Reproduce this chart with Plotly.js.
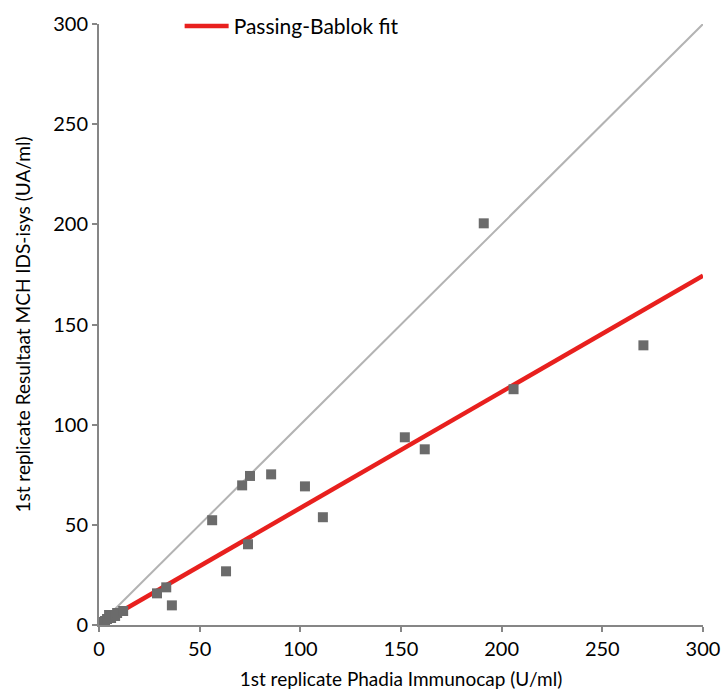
<!DOCTYPE html>
<html>
<head>
<meta charset="utf-8">
<script src="https://cdn.plot.ly/plotly-3.0.1.min.js"></script>
<style>html,body{margin:0;padding:0;background:#fff;}#chart{width:721px;height:691px;}</style>
</head>
<body>
<div id="chart"></div>
<script>
// Measured data: 1st replicate Phadia Immunocap (x) vs MCH IDS-isys (y)
const phadiaX = [0.2, 0.5, 1, 1.5, 2, 3, 4, 5, 6, 8, 9, 12,
  28.8, 33.4, 36.2, 56.2, 63.1, 71.1, 74.0, 75.0, 85.5, 102.3, 111.2,
  151.9, 161.8, 191.1, 205.9, 270.4];
const idsY = [0.1, 0.4, 0.8, 1.5, 1, 2, 3, 5, 3.5, 4.5, 6, 7,
  15.8, 18.8, 9.8, 52.3, 26.8, 69.7, 40.3, 74.4, 75.2, 69.2, 53.8,
  93.7, 87.7, 200.5, 117.7, 139.6];
// Identity line
const identityX = [0, 300];
const identityY = [0, 300];
// Passing-Bablok fit line
const fitX = [0, 300];
const fitY = [0.4, 174.4];
const tickVals = [0, 50, 100, 150, 200, 250, 300];
const tickText = ['0', '50', '100', '150', '200', '250', '300'];

const FONT = 'Lato, "Open Sans", sans-serif';
const axisColor = '#868686';

const traces = [
  {x: identityX, y: identityY, mode: 'lines', line: {color: '#b3b3b3', width: 2}, showlegend: false, hoverinfo: 'skip'},
  {x: fitX, y: fitY, mode: 'lines', name: 'Passing-Bablok fit', line: {color: '#e8201e', width: 4.5}, showlegend: true},
  {x: phadiaX, y: idsY, mode: 'markers', marker: {symbol: 'square', size: 10, color: '#6b6b6b'}, showlegend: false}
];

const axisCommon = {
  range: [0, 300],
  tickvals: tickVals,
  ticktext: tickText,
  showgrid: false,
  zeroline: false,
  showline: true,
  linecolor: axisColor,
  linewidth: 2,
  ticks: 'outside',
  ticklen: 5,
  tickwidth: 2,
  tickcolor: axisColor,
  tickfont: {family: FONT, size: 20, color: '#000'},
  automargin: false,
  fixedrange: true
};

const layout = {
  width: 721,
  height: 691,
  margin: {l: 99, r: 18, t: 24, b: 66, autoexpand: false},
  paper_bgcolor: '#fff',
  plot_bgcolor: '#fff',
  font: {family: FONT, color: '#000'},
  xaxis: Object.assign({}, axisCommon, {
    title: {text: '1st replicate Phadia Immunocap (U/ml)', font: {family: FONT, size: 19}, standoff: 14}
  }),
  yaxis: Object.assign({}, axisCommon, {
    title: {text: '1st replicate Resultaat MCH IDS-isys (UA/ml)', font: {family: FONT, size: 19}, standoff: 18}
  }),
  showlegend: true,
  legend: {
    x: 0.1335, y: 1.03, xanchor: 'left', yanchor: 'top',
    itemwidth: 44,
    bgcolor: 'rgba(0,0,0,0)',
    font: {family: FONT, size: 21, color: '#000'}
  }
};

Plotly.newPlot('chart', traces, layout, {displayModeBar: false, staticPlot: true});
</script>
</body>
</html>
